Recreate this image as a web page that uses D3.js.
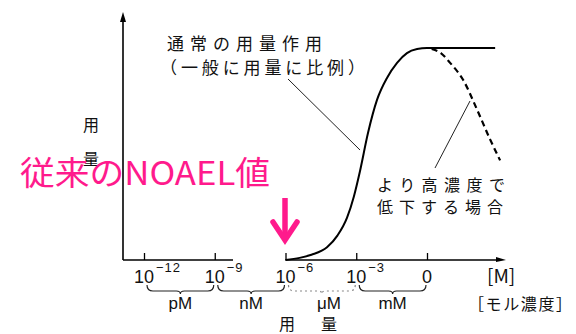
<!DOCTYPE html>
<html><head><meta charset="utf-8">
<script src="https://cdn.jsdelivr.net/npm/d3@7"></script>
<style>html,body{margin:0;padding:0;background:#fff;}svg{display:block;}</style>
</head><body>
<script>
// ---- data (x = log10 concentration [M], y = response %) ----
const tickExps = [-12, -9, -6, -3, 0];
const tickSups = ["−12", "−9", "−6", "−3", ""];
const unitLabels = ["pM", "nM", "μM", "mM"];
const unitFrom = [-12, -9, -6, -3];
const unitTo = [-9, -6, -3, 0];
const normalX = [-6.0, -5.4, -4.9, -4.24, -3.8, -3.39, -3.1, -2.84, -2.5, -2.12, -1.69, -1.27, -0.85, -0.42, 0, 2.89];
const normalY = [0, 1, 2.5, 6, 11.5, 20, 30, 42, 60, 75.5, 86, 93, 97.6, 99.5, 100, 100];
const dropX = [0.2, 0.6, 0.98, 1.53, 2.12, 2.67, 3.1];
const dropY = [99.6, 97.5, 93, 85, 71, 57, 47];

const W = 576, H = 334;
const svg = d3.select("body").append("svg").attr("width", W).attr("height", H);
const x = d3.scaleLinear().domain([-12, 0]).range([144, 427]);
const y = d3.scaleLinear().domain([0, 100]).range([260, 48]);
const axisY = 260, axisX0 = 123;
const jp = "'Noto Sans CJK JP', 'Noto Sans', sans-serif";
const lat = "'Liberation Sans', Arial, sans-serif";

// axes
svg.append("line").attr("x1", axisX0).attr("y1", axisY).attr("x2", axisX0).attr("y2", 18)
  .attr("stroke", "#000").attr("stroke-width", 1.6);
svg.append("path").attr("d", `M${axisX0-3},22 L${axisX0},12 L${axisX0+3},22 Z`).attr("fill", "#000");
svg.append("line").attr("x1", axisX0).attr("y1", axisY).attr("x2", 233).attr("y2", axisY)
  .attr("stroke", "#000").attr("stroke-width", 1.6);
svg.append("line").attr("x1", x(-6)).attr("y1", axisY).attr("x2", 498).attr("y2", axisY)
  .attr("stroke", "#000").attr("stroke-width", 1.6);
svg.append("path").attr("d", `M496,${axisY-3} L506,${axisY} L496,${axisY+2} Z`).attr("fill", "#000");

const xAxis = d3.axisBottom(x).tickValues(tickExps).tickSizeInner(-7).tickSizeOuter(0).tickFormat("");
const gx = svg.append("g").attr("transform", `translate(0,${axisY})`).call(xAxis);
gx.select(".domain").remove();
gx.selectAll(".tick line").attr("stroke", "#000").attr("stroke-width", 1.3);

// tick labels
tickExps.forEach((e, i) => {
  const t = svg.append("text").attr("font-family", lat).attr("fill", "#111")
    .attr("x", x(e)).attr("y", 283).attr("font-size", 18).attr("text-anchor", "middle");
  if (tickSups[i]) {
    t.text("10");
    svg.append("text").attr("x", x(e) + 12).attr("y", 272).attr("font-family", lat)
      .attr("font-size", 13).attr("fill", "#111").attr("letter-spacing", 1).text(tickSups[i]);
  } else {
    t.text("0");
  }
});

// braces + unit labels
unitLabels.forEach((lab, i) => {
  const a = x(unitFrom[i]) + 3, b = x(unitTo[i]) - 1, m = (a + b) / 2, by = 291;
  const d = `M${a},${by-6} Q${a},${by} ${a+6},${by} L${m-4},${by} Q${m},${by} ${m},${by+3} Q${m},${by} ${m+4},${by} L${b-6},${by} Q${b},${by} ${b},${by-6}`;
  svg.append("path").attr("d", d).attr("fill", "none")
    .attr("stroke", i === 2 ? "#888" : "#222").attr("stroke-width", 1.2)
    .attr("stroke-dasharray", i === 2 ? "2,3" : null);
  svg.append("text").attr("x", i === 2 ? m + 7 : m).attr("y", 309).attr("text-anchor", "middle")
    .attr("font-family", lat).attr("font-size", 17).attr("fill", "#111").text(lab);
});

// curves
const line = d3.line().x(d => x(d[0])).y(d => y(d[1])).curve(d3.curveMonotoneX);
svg.append("path").datum(d3.zip(normalX, normalY)).attr("d", line)
  .attr("fill", "none").attr("stroke", "#000").attr("stroke-width", 2);
svg.append("path").datum(d3.zip(dropX, dropY)).attr("d", line)
  .attr("fill", "none").attr("stroke", "#000").attr("stroke-width", 2.2).attr("stroke-dasharray", "6,4");

// leader lines
svg.append("line").attr("x1", 288).attr("y1", 79).attr("x2", 360).attr("y2", 150).attr("stroke", "#222").attr("stroke-width", 1);
svg.append("line").attr("x1", 470).attr("y1", 101).attr("x2", 435).attr("y2", 168).attr("stroke", "#222").attr("stroke-width", 1);

// annotations
function jt(txt, x0, yb, fs, len, anchor) {
  const t = svg.append("text").attr("x", x0).attr("y", yb).attr("font-family", jp)
    .attr("font-size", fs).attr("fill", "#111").text(txt);
  if (len) t.attr("textLength", len).attr("lengthAdjust", "spacing");
  if (anchor) t.attr("text-anchor", anchor);
  return t;
}
jt("通常の用量作用", 167, 50, 17, 155);
jt("（一般に用量に比例）", 160, 74, 17, 205);
jt("より高濃度で", 377, 191, 16, 128);
jt("低下する場合", 377, 213, 16, 126);
jt("[M]", 487, 283, 19);
jt("［モル濃度］", 468, 310, 16, 104);
jt("用", 287, 330, 16, null, "middle");
jt("量", 329, 330, 16, null, "middle");
jt("用", 91, 131, 16, null, "middle");
jt("量", 91, 165, 16, null, "middle");

// NOAEL highlight
svg.append("text").attr("x", 20).attr("y", 185).attr("font-family", jp).attr("font-size", 33)
  .attr("fill", "#ff1a8c").attr("textLength", 250).attr("lengthAdjust", "spacingAndGlyphs").text("従来のNOAEL値");
svg.append("line").attr("x1", 285).attr("y1", 198).attr("x2", 285).attr("y2", 238)
  .attr("stroke", "#ff1a8c").attr("stroke-width", 5.5);
svg.append("path").attr("d", "M273,222 L285,240 L297,222").attr("fill", "none")
  .attr("stroke", "#ff1a8c").attr("stroke-width", 5.5).attr("stroke-linejoin", "miter").attr("stroke-linecap", "round");
</script>
</body></html>
